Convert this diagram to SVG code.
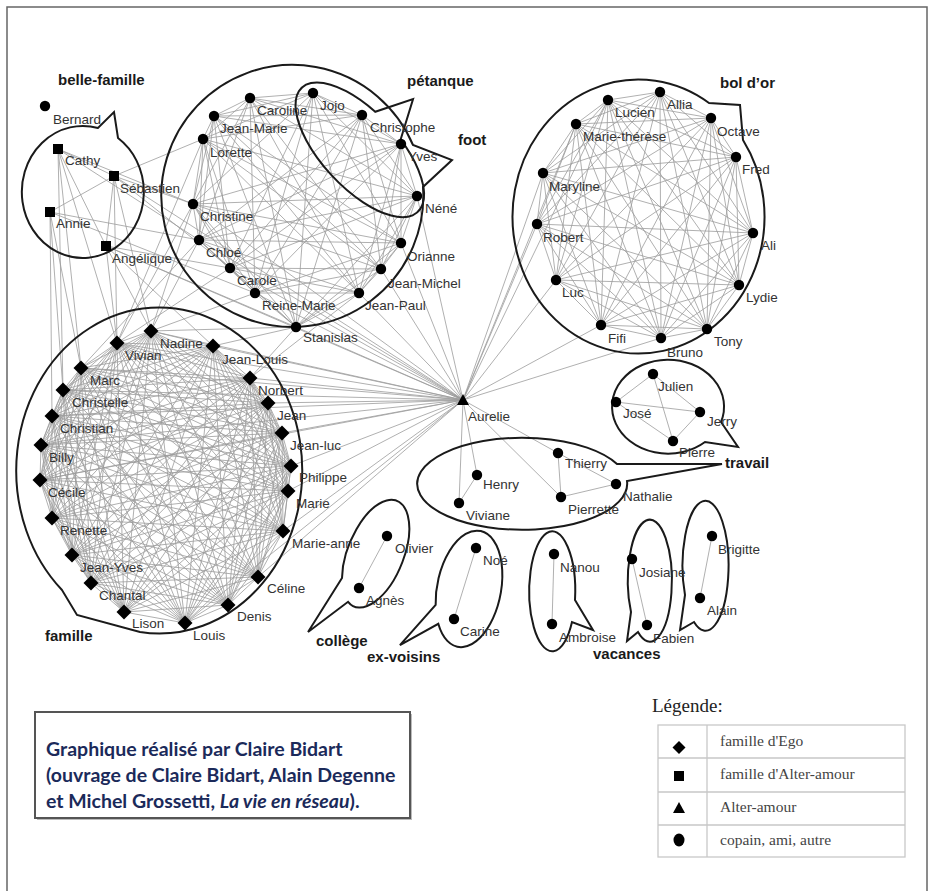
<svg xmlns="http://www.w3.org/2000/svg" xmlns:xlink="http://www.w3.org/1999/xlink" width="934" height="891" viewBox="0 0 934 891">
<style>
.e{fill:none;stroke:#9c9c9c;stroke-width:0.8}
.b{fill:none;stroke:#1a1a1a;stroke-width:2}
.l{font-family:"Liberation Sans",Arial,sans-serif;font-size:13.5px;fill:#333}
.g{font-family:"Liberation Sans",Arial,sans-serif;font-size:15px;font-weight:bold;fill:#1a1a1a}
.lg{font-family:"Liberation Serif","Times New Roman",serif;font-size:15.5px;fill:#444}
.cap{font-family:Lato,"Open Sans",sans-serif;font-size:19.5px;font-weight:bold;fill:#1b2a5a}
</style>
<defs>
<circle id="dot" r="5.2" fill="#000"/>
<path id="dia" d="M0,-7.5L7.5,0L0,7.5L-7.5,0Z" fill="#000"/>
<rect id="sq" x="-5" y="-5" width="10" height="10" fill="#000"/>
<path id="tri" d="M0,-6L6,5H-6Z" fill="#000"/>
</defs>
<rect x="0" y="0" width="934" height="891" fill="#fff"/>
<rect x="7" y="7" width="920" height="900" fill="#fff" stroke="#666" stroke-width="1.5"/>

<g id="edges" class="e">
<!-- famille complete -->
<path d="M151,331 L213,346 250,378 268,403 282,433 291,466 288,491 283,531 258,577 228,605 185,623 124,612 91,583 72,555 52,518 40,480 41,445 52,416 63,390 81,368 117,343 Z"/>
<path d="M151,331 L250,378 282,433 288,491 258,577 185,623 91,583 52,518 41,445 63,390 117,343 213,346 268,403 291,466 283,531 228,605 124,612 72,555 40,480 52,416 81,368 Z"/>
<path d="M151,331 L282,433 258,577 91,583 41,445 117,343 268,403 283,531 124,612 40,480 81,368 250,378 288,491 185,623 52,518 63,390 213,346 291,466 228,605 72,555 52,416 Z"/>
<path d="M151,331 L291,466 185,623 40,480 117,343 282,433 228,605 52,518 81,368 268,403 258,577 72,555 63,390 250,378 283,531 91,583 52,416 213,346 288,491 124,612 41,445 Z"/>
<path d="M151,331 L258,577 41,445 268,403 124,612 81,368 288,491 52,518 213,346 228,605 52,416 282,433 91,583 117,343 283,531 40,480 250,378 185,623 63,390 291,466 72,555 Z"/>
<path d="M151,331 L185,623 117,343 228,605 81,368 258,577 63,390 283,531 52,416 288,491 41,445 291,466 40,480 282,433 52,518 268,403 72,555 250,378 91,583 213,346 124,612 Z"/>
<path d="M151,331 L268,403 288,491 228,605 91,583 40,480 63,390 Z M213,346 L282,433 283,531 185,623 72,555 41,445 81,368 Z M250,378 L291,466 258,577 124,612 52,518 52,416 117,343 Z"/>
<path d="M151,331 L288,491 91,583 63,390 268,403 228,605 40,480 Z M213,346 L283,531 72,555 81,368 282,433 185,623 41,445 Z M250,378 L258,577 52,518 117,343 291,466 124,612 52,416 Z"/>
<path d="M151,331 L228,605 63,390 288,491 40,480 268,403 91,583 Z M213,346 L185,623 81,368 283,531 41,445 282,433 72,555 Z M250,378 L124,612 117,343 258,577 52,416 291,466 52,518 Z"/>
<path d="M151,331 L283,531 52,518Z M213,346 L258,577 40,480Z M250,378 L228,605 41,445Z M268,403 L185,623 52,416Z M282,433 L124,612 63,390Z M291,466 L91,583 81,368Z M288,491 L72,555 117,343Z"/>
<!-- top circle -->
<path d="M214,116 L250,98 313,93 362,115 401,144 417,196 401,243 381,269 359,293 296,327 255,293 230,268 199,240 193,204 203,139 Z"/>
<path d="M214,116 L313,93 401,144 401,243 359,293 255,293 199,240 203,139 250,98 362,115 417,196 381,269 296,327 230,268 193,204 Z"/>
<path d="M214,116 L401,144 359,293 199,240 250,98 417,196 296,327 193,204 313,93 401,243 255,293 203,139 362,115 381,269 230,268 Z"/>
<path d="M214,116 L381,269 203,139 401,243 193,204 417,196 199,240 401,144 230,268 362,115 255,293 313,93 296,327 250,98 359,293 Z"/>
<path d="M214,116 L362,115 401,243 296,327 199,240 Z M250,98 L401,144 381,269 255,293 193,204 Z M313,93 L417,196 359,293 230,268 203,139 Z"/>
<path d="M214,116 L401,243 199,240 362,115 296,327 Z M250,98 L381,269 193,204 401,144 255,293 Z M313,93 L359,293 203,139 417,196 230,268 Z"/>
<!-- bol d'or -->
<path d="M608,100 L660,92 711,118 736,157 753,233 739,285 707,329 661,338 601,325 556,280 537,224 543,173 576,124 Z"/>
<path d="M608,100 L711,118 753,233 707,329 601,325 537,224 576,124 660,92 736,157 739,285 661,338 556,280 543,173 Z"/>
<path d="M608,100 L736,157 707,329 556,280 576,124 711,118 739,285 601,325 543,173 660,92 753,233 661,338 537,224 Z"/>
<path d="M608,100 L753,233 601,325 576,124 736,157 661,338 543,173 711,118 707,329 537,224 660,92 739,285 556,280 Z"/>
<path d="M608,100 L739,285 537,224 711,118 661,338 576,124 753,233 556,280 660,92 707,329 543,173 736,157 601,325 Z"/>
<path d="M608,100 L707,329 576,124 739,285 543,173 753,233 537,224 736,157 556,280 711,118 601,325 660,92 661,338 Z"/>
<!-- Aurelie -->
<path d="M463,400L151,331M463,400L213,346M463,400L250,378M463,400L268,403M463,400L282,433M463,400L291,466M463,400L288,491M463,400L283,531M463,400L258,577M463,400L117,343M463,400L81,368M463,400L63,390M463,400L52,416M463,400L41,445M463,400L40,480M463,400L185,623M463,400L296,327M463,400L359,293M463,400L381,269M463,400L401,243M463,400L255,293M463,400L230,268M463,400L199,240M463,400L193,204M463,400L417,196M463,400L106,246M463,400L114,176M463,400L537,224M463,400L543,173M463,400L556,280M463,400L601,325M463,400L576,124M463,400L608,100M463,400L661,338M463,400L459,503M463,400L477,475M463,400L558,453M463,400L561,497"/>
<!-- belle-famille -->
<path d="M58,149L114,176M50,212L114,176M114,176L106,246M58,149L106,246M58,149L63,390M58,149L81,368M58,149L117,343M50,212L63,390M50,212L81,368M50,212L52,416M114,176L117,343M114,176L151,331M106,246L151,331M106,246L117,343M106,246L213,346M58,149L193,204M58,149L199,240M114,176L193,204M114,176L230,268M50,212L199,240M50,212L255,293M106,246L230,268M106,246L296,327M114,176L203,139"/>
<path d="M193,204L117,343M199,240L81,368M199,240L151,331M230,268L117,343M255,293L151,331M296,327L213,346M296,327L151,331M193,204L151,331M203,139L117,343M359,293L250,378M296,327L250,378"/>
<!-- small groups -->
<path d="M477,475L459,503M558,453L561,497M561,497L616,484M558,453L616,484M653,374L616,402M653,374L673,441M653,374L700,412M616,402L700,412M616,402L673,441M700,412L673,441M387,536L359,588M476,548L454,619M554,554L552,624M632,559L647,625M712,536L700,598"/>
</g>

<g id="bubbles" class="b">
<path id="b-bellefamille" d="M98,128 A61,66 0 1 0 118,138 L114,112 Z"/>
<path id="b-cercle" d="M413,145 A131,131 0 1 0 423,187 L452,160 Z"/>
<path id="b-petanque" transform="rotate(47 360 150)" d="M342.4,112.8 A85,38 0 1 0 380,113.1 L359,76.5 Z"/>
<path id="b-bolor" d="M709,103 A126,137 0 1 0 743,140 L740,105 Z"/>
<path id="b-famille" d="M62,590 A143,163 0 1 1 140,632 L77,615 Z"/>
<path id="b-travail1" d="M721,422 A56,47 0 1 0 705,442 L738,447 Z"/>
<path id="b-travail2" d="M617,464 A105,46 0 1 0 627,481 L722,464 Z"/>
<path id="b-college" transform="rotate(22 375 553)" d="M353.8,588.6 A28,57 0 1 1 368.3,608.3 L342.5,651.3 Z"/>
<path id="b-exvoisins" transform="rotate(11 469 589)" d="M439.3,611 A32,59 0 1 1 445.5,629 L411.9,657.2 Z"/>
<path id="b-vac1" d="M575,600 A23,60 0 1 0 572,622 L593,630 Z"/>
<path id="b-vac2" d="M638,632 A22,61 0 1 0 631,612 L627,641 Z"/>
<path id="b-vac3" d="M694,622 A23,65 0 1 0 685,595 L680,630 Z"/>
</g>

<g id="group-labels" class="g">
<text x="58" y="85">belle-famille</text>
<text x="407" y="86">pétanque</text>
<text x="458" y="145">foot</text>
<text x="720" y="88">bol d’or</text>
<text x="45" y="641">famille</text>
<text x="725" y="468">travail</text>
<text x="316" y="646">collège</text>
<text x="367" y="662">ex-voisins</text>
<text x="593" y="659">vacances</text>
</g>

<g id="n-bernard"><use href="#dot" x="45" y="106"/><text class="l" x="53" y="124">Bernard</text></g>
<g id="n-cathy"><use href="#sq" x="58" y="149"/><text class="l" x="65" y="165">Cathy</text></g>
<g id="n-sebastien"><use href="#sq" x="114" y="176"/><text class="l" x="120" y="193">Sébastien</text></g>
<g id="n-annie"><use href="#sq" x="50" y="212"/><text class="l" x="56" y="228">Annie</text></g>
<g id="n-angelique"><use href="#sq" x="106" y="246"/><text class="l" x="112" y="263">Angélique</text></g>

<g id="n-jeanmarie"><use href="#dot" x="214" y="116"/><text class="l" x="220" y="133">Jean-Marie</text></g>
<g id="n-caroline"><use href="#dot" x="250" y="98"/><text class="l" x="257" y="115">Caroline</text></g>
<g id="n-jojo"><use href="#dot" x="313" y="93"/><text class="l" x="320" y="110">Jojo</text></g>
<g id="n-christophe"><use href="#dot" x="362" y="115"/><text class="l" x="370" y="132">Christophe</text></g>
<g id="n-yves"><use href="#dot" x="401" y="144"/><text class="l" x="408" y="161">Yves</text></g>
<g id="n-nene"><use href="#dot" x="417" y="196"/><text class="l" x="425" y="213">Néné</text></g>
<g id="n-orianne"><use href="#dot" x="401" y="243"/><text class="l" x="407" y="261">Orianne</text></g>
<g id="n-jeanmichel"><use href="#dot" x="381" y="269"/><text class="l" x="388" y="288">Jean-Michel</text></g>
<g id="n-jeanpaul"><use href="#dot" x="359" y="293"/><text class="l" x="365" y="310">Jean-Paul</text></g>
<g id="n-stanislas"><use href="#dot" x="296" y="327"/><text class="l" x="303" y="342">Stanislas</text></g>
<g id="n-reinemarie"><use href="#dot" x="255" y="293"/><text class="l" x="262" y="310">Reine-Marie</text></g>
<g id="n-carole"><use href="#dot" x="230" y="268"/><text class="l" x="237" y="285">Carole</text></g>
<g id="n-chloe"><use href="#dot" x="199" y="240"/><text class="l" x="206" y="257">Chloé</text></g>
<g id="n-christine"><use href="#dot" x="193" y="204"/><text class="l" x="200" y="221">Christine</text></g>
<g id="n-lorette"><use href="#dot" x="203" y="139"/><text class="l" x="210" y="157">Lorette</text></g>

<g id="n-lucien"><use href="#dot" x="608" y="100"/><text class="l" x="615" y="117">Lucien</text></g>
<g id="n-allia"><use href="#dot" x="660" y="92"/><text class="l" x="667" y="109">Allia</text></g>
<g id="n-octave"><use href="#dot" x="711" y="118"/><text class="l" x="717" y="136">Octave</text></g>
<g id="n-fred"><use href="#dot" x="736" y="157"/><text class="l" x="742" y="174">Fred</text></g>
<g id="n-ali"><use href="#dot" x="753" y="233"/><text class="l" x="761" y="250">Ali</text></g>
<g id="n-lydie"><use href="#dot" x="739" y="285"/><text class="l" x="746" y="302">Lydie</text></g>
<g id="n-tony"><use href="#dot" x="707" y="329"/><text class="l" x="714" y="346">Tony</text></g>
<g id="n-bruno"><use href="#dot" x="661" y="338"/><text class="l" x="667" y="357">Bruno</text></g>
<g id="n-fifi"><use href="#dot" x="601" y="325"/><text class="l" x="608" y="343">Fifi</text></g>
<g id="n-luc"><use href="#dot" x="556" y="280"/><text class="l" x="562" y="297">Luc</text></g>
<g id="n-robert"><use href="#dot" x="537" y="224"/><text class="l" x="543" y="242">Robert</text></g>
<g id="n-maryline"><use href="#dot" x="543" y="173"/><text class="l" x="549" y="191">Maryline</text></g>
<g id="n-mariethérèse"><use href="#dot" x="576" y="124"/><text class="l" x="583" y="141">Marie-thérèse</text></g>

<g id="n-nadine"><use href="#dia" x="151" y="331"/><text class="l" x="160" y="348">Nadine</text></g>
<g id="n-jeanlouis"><use href="#dia" x="213" y="346"/><text class="l" x="222" y="364">Jean-Louis</text></g>
<g id="n-norbert"><use href="#dia" x="250" y="378"/><text class="l" x="258" y="395">Norbert</text></g>
<g id="n-jean"><use href="#dia" x="268" y="403"/><text class="l" x="277" y="420">Jean</text></g>
<g id="n-jeanluc"><use href="#dia" x="282" y="433"/><text class="l" x="290" y="450">Jean-luc</text></g>
<g id="n-philippe"><use href="#dia" x="291" y="466"/><text class="l" x="299" y="482">Philippe</text></g>
<g id="n-marie"><use href="#dia" x="288" y="491"/><text class="l" x="296" y="508">Marie</text></g>
<g id="n-marieanne"><use href="#dia" x="283" y="531"/><text class="l" x="292" y="548">Marie-anne</text></g>
<g id="n-celine"><use href="#dia" x="258" y="577"/><text class="l" x="267" y="593">Céline</text></g>
<g id="n-denis"><use href="#dia" x="228" y="605"/><text class="l" x="237" y="621">Denis</text></g>
<g id="n-louis"><use href="#dia" x="185" y="623"/><text class="l" x="193" y="640">Louis</text></g>
<g id="n-lison"><use href="#dia" x="124" y="612"/><text class="l" x="132" y="628">Lison</text></g>
<g id="n-chantal"><use href="#dia" x="91" y="583"/><text class="l" x="99" y="600">Chantal</text></g>
<g id="n-jeanyves"><use href="#dia" x="72" y="555"/><text class="l" x="80" y="572">Jean-Yves</text></g>
<g id="n-renette"><use href="#dia" x="52" y="518"/><text class="l" x="60" y="535">Renette</text></g>
<g id="n-cecile"><use href="#dia" x="40" y="480"/><text class="l" x="48" y="497">Cécile</text></g>
<g id="n-billy"><use href="#dia" x="41" y="445"/><text class="l" x="49" y="462">Billy</text></g>
<g id="n-christian"><use href="#dia" x="52" y="416"/><text class="l" x="60" y="433">Christian</text></g>
<g id="n-christelle"><use href="#dia" x="63" y="390"/><text class="l" x="72" y="407">Christelle</text></g>
<g id="n-marc"><use href="#dia" x="81" y="368"/><text class="l" x="90" y="385">Marc</text></g>
<g id="n-vivian"><use href="#dia" x="117" y="343"/><text class="l" x="125" y="360">Vivian</text></g>

<g id="n-aurelie"><use href="#tri" x="463" y="400"/><text class="l" x="468" y="421">Aurelie</text></g>
<g id="n-julien"><use href="#dot" x="653" y="374"/><text class="l" x="658" y="391">Julien</text></g>
<g id="n-jose"><use href="#dot" x="616" y="402"/><text class="l" x="623" y="418">José</text></g>
<g id="n-jerry"><use href="#dot" x="700" y="412"/><text class="l" x="707" y="426">Jerry</text></g>
<g id="n-pierre"><use href="#dot" x="673" y="441"/><text class="l" x="679" y="457">Pierre</text></g>
<g id="n-thierry"><use href="#dot" x="558" y="453"/><text class="l" x="565" y="468">Thierry</text></g>
<g id="n-henry"><use href="#dot" x="477" y="475"/><text class="l" x="483" y="489">Henry</text></g>
<g id="n-nathalie"><use href="#dot" x="616" y="484"/><text class="l" x="623" y="501">Nathalie</text></g>
<g id="n-viviane"><use href="#dot" x="459" y="503"/><text class="l" x="466" y="520">Viviane</text></g>
<g id="n-pierrette"><use href="#dot" x="561" y="497"/><text class="l" x="568" y="514">Pierrette</text></g>

<g id="n-olivier"><use href="#dot" x="387" y="536"/><text class="l" x="395" y="553">Olivier</text></g>
<g id="n-agnes"><use href="#dot" x="359" y="588"/><text class="l" x="366" y="605">Agnès</text></g>
<g id="n-noe"><use href="#dot" x="476" y="548"/><text class="l" x="483" y="565">Noé</text></g>
<g id="n-carine"><use href="#dot" x="454" y="619"/><text class="l" x="460" y="636">Carine</text></g>
<g id="n-nanou"><use href="#dot" x="554" y="554"/><text class="l" x="560" y="572">Nanou</text></g>
<g id="n-ambroise"><use href="#dot" x="552" y="624"/><text class="l" x="559" y="642">Ambroise</text></g>
<g id="n-josiane"><use href="#dot" x="632" y="559"/><text class="l" x="639" y="577">Josiane</text></g>
<g id="n-fabien"><use href="#dot" x="647" y="625"/><text class="l" x="653" y="643">Fabien</text></g>
<g id="n-brigitte"><use href="#dot" x="712" y="536"/><text class="l" x="718" y="554">Brigitte</text></g>
<g id="n-alain"><use href="#dot" x="700" y="598"/><text class="l" x="707" y="615">Alain</text></g>

<g id="caption">
<rect x="37" y="714" width="375" height="106" fill="#bbb"/>
<rect x="35" y="712" width="375" height="106" fill="#fff" stroke="#555" stroke-width="2"/>
<text class="cap" x="46" y="756">Graphique réalisé par Claire Bidart</text>
<text class="cap" x="46" y="782">(ouvrage de Claire Bidart, Alain Degenne</text>
<text class="cap" x="46" y="808">et Michel Grossetti, <tspan font-style="italic">La vie en réseau</tspan>).</text>
</g>

<g id="legend">
<text x="652" y="712" font-family="'Liberation Serif',serif" font-size="19" fill="#222">Légende:</text>
<g fill="none" stroke="#c8c8c8" stroke-width="1.3">
<rect x="658" y="725" width="247" height="132"/>
<path d="M658,758H905M658,792H905M658,825H905M707,725V857"/>
</g>
<path d="M679,741L685.5,747.5L679,754L672.5,747.5Z" fill="#000"/>
<rect x="674" y="771" width="10" height="10" fill="#000"/>
<path d="M679,802L685,813H673Z" fill="#000"/>
<ellipse cx="679" cy="840" rx="5.5" ry="6.5" fill="#000"/>
<text class="lg" x="720" y="746">famille d'Ego</text>
<text class="lg" x="720" y="779">famille d'Alter-amour</text>
<text class="lg" x="720" y="812">Alter-amour</text>
<text class="lg" x="720" y="845">copain, ami, autre</text>
</g>
</svg>
